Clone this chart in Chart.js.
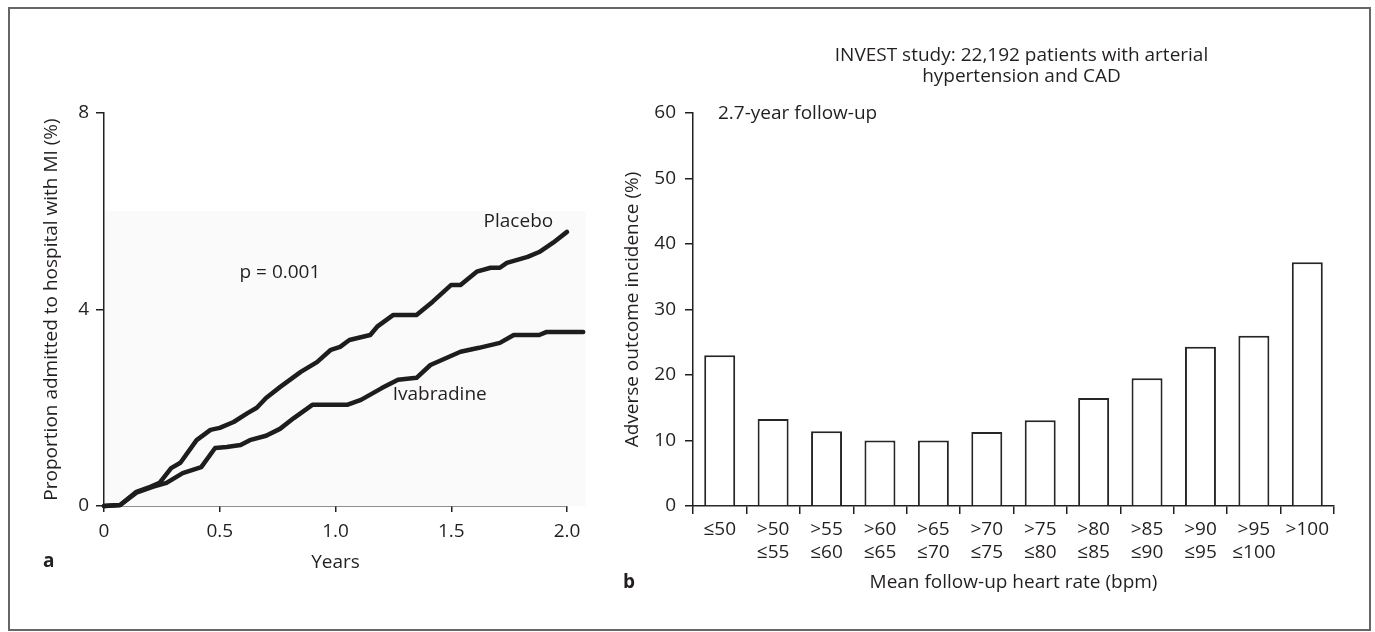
<!DOCTYPE html>
<html>
<head>
<meta charset="utf-8">
<script src="https://cdn.jsdelivr.net/npm/chart.js@4/dist/chart.umd.min.js"></script>
<style>
  html, body { margin: 0; padding: 0; background: #fff; }
  #page { position: relative; width: 1375px; height: 632px; overflow: hidden; }
  #frame { position: absolute; left: 8px; top: 7px; width: 1359px; height: 620px; border: 2px solid #666; }
  canvas { position: absolute; top: 0; }
  #left { left: 0; }
  #right { left: 620px; }
</style>
</head>
<body>
<div id="page">
  <div id="frame"></div>
  <canvas id="left" width="620" height="632"></canvas>
  <canvas id="right" width="755" height="632"></canvas>
</div>
<script>
// Panel a: cumulative MI admissions (%)
const placeboYears = [0, 0.07, 0.14, 0.2, 0.24, 0.29, 0.33, 0.4, 0.46, 0.5, 0.56, 0.62, 0.66, 0.7, 0.76, 0.85, 0.92, 0.98, 1.02, 1.06, 1.15, 1.18, 1.25, 1.35, 1.42, 1.5, 1.54, 1.61, 1.67, 1.71, 1.74, 1.83, 1.88, 1.94, 2.0, 2.07];
const placeboPct = [0, 0.02, 0.29, 0.39, 0.47, 0.77, 0.88, 1.34, 1.55, 1.59, 1.71, 1.89, 2.0, 2.2, 2.42, 2.73, 2.93, 3.18, 3.24, 3.38, 3.48, 3.65, 3.89, 3.89, 4.16, 4.5, 4.5, 4.77, 4.85, 4.85, 4.95, 5.07, 5.17, 5.36, 5.58, 5.87];
const ivabradineYears = [0, 0.07, 0.14, 0.21, 0.27, 0.34, 0.42, 0.48, 0.53, 0.59, 0.63, 0.7, 0.76, 0.82, 0.9, 1.05, 1.11, 1.2, 1.27, 1.35, 1.41, 1.54, 1.62, 1.71, 1.77, 1.88, 1.91, 2.07];
const ivabradinePct = [0, 0.02, 0.27, 0.39, 0.47, 0.67, 0.79, 1.18, 1.2, 1.24, 1.34, 1.43, 1.57, 1.79, 2.06, 2.06, 2.16, 2.4, 2.57, 2.61, 2.87, 3.14, 3.22, 3.32, 3.48, 3.48, 3.54, 3.54];
const yearTicks = [0, 0.5, 1.0, 1.5, 2.0];
const pctTicks = [0, 4, 8];

// Panel b: INVEST adverse outcome incidence by mean follow-up heart rate
const hrBands = [['≤50'], ['>50', '≤55'], ['>55', '≤60'], ['>60', '≤65'], ['>65', '≤70'], ['>70', '≤75'],
                 ['>75', '≤80'], ['>80', '≤85'], ['>85', '≤90'], ['>90', '≤95'], ['>95', '≤100'], ['>100']];
const incidence = [23.0, 13.3, 11.4, 10.0, 10.0, 11.3, 13.1, 16.5, 19.5, 24.3, 26.0, 37.2];

const ink = '#231f20';
const fontSize = 19;
Chart.defaults.font.family = "'Open Sans', 'Noto Sans', sans-serif";
Chart.defaults.font.size = fontSize;
Chart.defaults.color = ink;

function toPoints(xs, ys) {
  return xs.map((x, i) => ({ x: x, y: ys[i] }));
}

// light shaded band behind the curves and the text labels
const panelA = {
  id: 'panelA',
  beforeDatasetsDraw(chart) {
    const { ctx, scales: { x, y } } = chart;
    ctx.save();
    ctx.fillStyle = '#fafafa';
    const x0 = x.getPixelForValue(0), x1 = x.getPixelForValue(2.08);
    const y0 = y.getPixelForValue(6), y1 = y.getPixelForValue(0);
    ctx.fillRect(x0 + 1, y0, x1 - x0 - 1, y1 - y0);
    ctx.restore();
  },
  afterDraw(chart) {
    const { ctx, scales: { x, y } } = chart;
    ctx.save();
    ctx.fillStyle = ink;
    ctx.font = fontSize + "px 'Open Sans'";
    ctx.textAlign = 'center';
    ctx.textBaseline = 'middle';
    ctx.fillText('p = 0.001', x.getPixelForValue(0.76), y.getPixelForValue(4.75));
    ctx.fillText('Placebo', x.getPixelForValue(1.79), y.getPixelForValue(5.78));
    ctx.fillText('Ivabradine', x.getPixelForValue(1.45), y.getPixelForValue(2.26));
    ctx.font = "bold 19px 'Open Sans'";
    ctx.textAlign = 'left';
    ctx.textBaseline = 'alphabetic';
    ctx.fillText('a', 43, 567);
    ctx.restore();
  }
};

const axisLine = { display: true, color: ink, width: 1.5 };

new Chart(document.getElementById('left'), {
  type: 'scatter',
  data: {
    datasets: [
      { label: 'Placebo', data: toPoints(placeboYears, placeboPct) },
      { label: 'Ivabradine', data: toPoints(ivabradineYears, ivabradinePct) }
    ]
  },
  options: {
    responsive: false,
    animation: false,
    devicePixelRatio: 1,
    showLine: true,
    layout: { padding: { top: 113, right: 53, bottom: 0, left: 0 } },
    elements: {
      line: { borderColor: '#1d1d1d', borderWidth: 4.5, tension: 0, borderJoinStyle: 'round', borderCapStyle: 'round', fill: false },
      point: { radius: 0, hoverRadius: 0 }
    },
    datasets: { scatter: { clip: false } },
    plugins: { legend: { display: false }, tooltip: { enabled: false } },
    scales: {
      x: {
        type: 'linear', min: 0, max: 2,
        afterBuildTicks: s => { s.ticks = yearTicks.map(v => ({ value: v })); },
        afterFit: s => { s.height = 126; },
        border: axisLine,
        grid: { display: true, drawOnChartArea: false, drawTicks: true, tickLength: 6, color: ink, lineWidth: 1.5 },
        ticks: { padding: 8, callback: v => (v === 0 ? '0' : v.toFixed(1)) },
        title: { display: true, text: 'Years', padding: { top: 0, bottom: 58 } }
      },
      y: {
        type: 'linear', min: 0, max: 8,
        afterBuildTicks: s => { s.ticks = pctTicks.map(v => ({ value: v })); },
        afterFit: s => { s.width = 104; },
        border: axisLine,
        grid: { display: true, drawOnChartArea: false, drawTicks: true, tickLength: 8, color: ink, lineWidth: 1.5 },
        ticks: { padding: 7 },
        title: { display: true, text: 'Proportion admitted to hospital with MI (%)', padding: { top: 40, bottom: 0 } }
      }
    }
  },
  plugins: [panelA]
});

// titles and panel letter for the bar chart
const panelB = {
  id: 'panelB',
  afterDraw(chart) {
    const { ctx, chartArea, scales: { y } } = chart;
    ctx.save();
    ctx.fillStyle = ink;
    ctx.font = fontSize + "px 'Open Sans'";
    ctx.textBaseline = 'middle';
    ctx.textAlign = 'center';
    const cx = (chartArea.left + chartArea.right) / 2 + 8;
    ctx.fillText('INVEST study: 22,192 patients with arterial', cx, 56);
    ctx.fillText('hypertension and CAD', cx, 77);
    ctx.textAlign = 'left';
    ctx.fillText('2.7-year follow-up', chartArea.left + 25, y.getPixelForValue(60) + 1);
    ctx.font = "bold 19px 'Open Sans'";
    ctx.textBaseline = 'alphabetic';
    ctx.fillText('b', 3, 588);
    ctx.restore();
  }
};

new Chart(document.getElementById('right'), {
  type: 'bar',
  data: {
    labels: hrBands,
    datasets: [{
      label: 'Adverse outcome incidence (%)',
      data: incidence,
      backgroundColor: '#ffffff',
      borderColor: '#262626',
      borderWidth: 2,
      borderSkipped: 'bottom',
      barPercentage: 0.58,
      categoryPercentage: 1
    }]
  },
  options: {
    responsive: false,
    animation: false,
    devicePixelRatio: 1,
    layout: { padding: { top: 113, right: 41, bottom: 0, left: 0 } },
    plugins: { legend: { display: false }, tooltip: { enabled: false } },
    scales: {
      x: {
        offset: true,
        afterFit: s => { s.height = 126; },
        border: axisLine,
        grid: { display: true, offset: true, drawOnChartArea: false, drawTicks: true, tickLength: 8, color: ink, lineWidth: 1.5 },
        ticks: { padding: 4, maxRotation: 0, autoSkip: false },
        title: { display: true, text: 'Mean follow-up heart rate (bpm)', padding: { top: 0, bottom: 38 } }
      },
      y: {
        min: 0, max: 60,
        ticks: { stepSize: 10, padding: 9 },
        afterFit: s => { s.width = 73; },
        border: axisLine,
        grid: { display: true, drawOnChartArea: false, drawTicks: true, tickLength: 8, color: ink, lineWidth: 1.5 },
        title: { display: true, text: 'Adverse outcome incidence (%)', padding: { top: 1, bottom: 0 } }
      }
    }
  },
  plugins: [panelB]
});
</script>
</body>
</html>
